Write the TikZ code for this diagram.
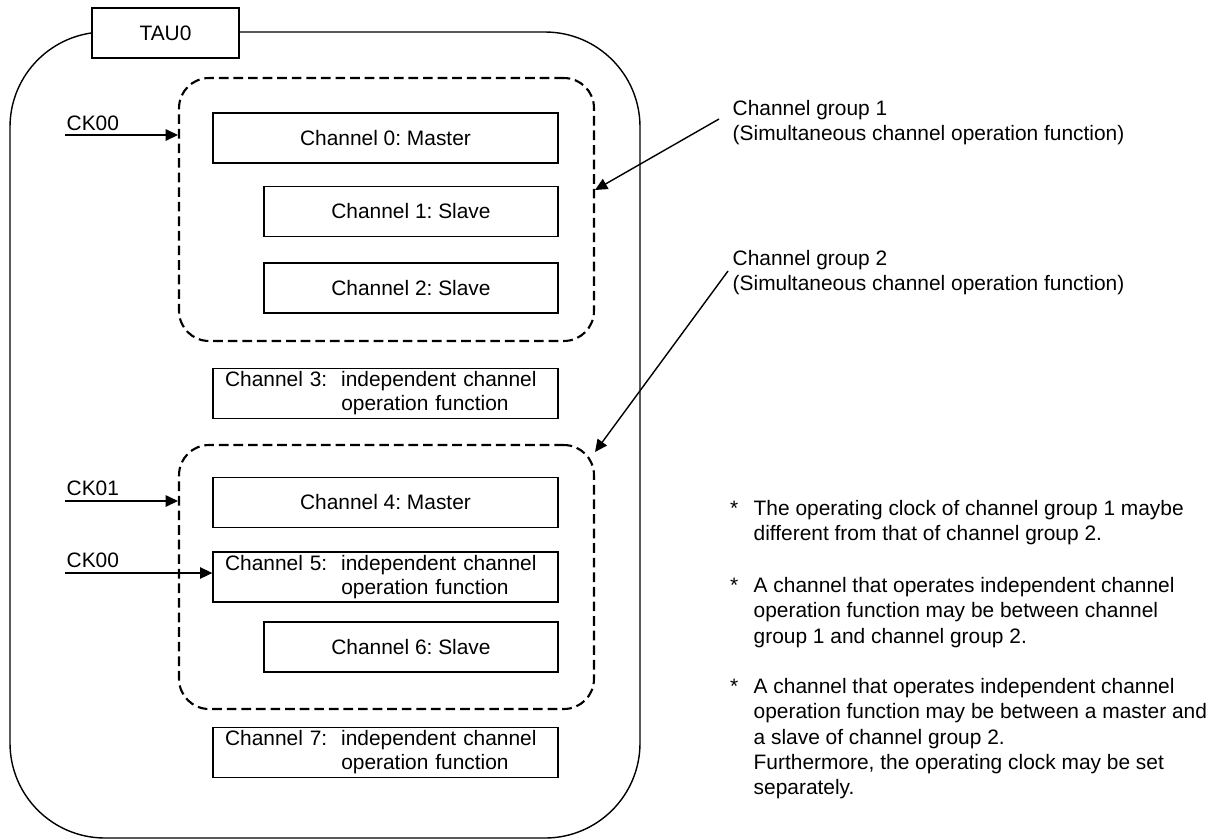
\documentclass[tikz,border=0pt]{standalone}
\usepackage{fontspec}
\setmainfont{Liberation Sans}
\usetikzlibrary{calc,arrows.meta}
\frenchspacing

\newcommand{\indepch}[1]{Channel #1:\ \ independent channel\\\hphantom{Channel #1:\ \ }operation function}

\begin{document}
\begin{tikzpicture}[x=0.02cm, y=-0.02cm, line width=0.8pt,
  every node/.style={font=\fontsize{11.9}{13.6}\selectfont},
  chbox/.style={draw, minimum height=1cm, inner sep=0pt},
  chwide/.style={chbox, minimum width=6.9cm},
  chnarrow/.style={chbox, minimum width=5.88cm},
  chtwo/.style={chbox, text width=6.42cm, inner xsep=0.24cm, align=left},
  group/.style={draw, line width=1.2pt, dash pattern=on 5.5pt off 2.8pt,
    rounded corners=0.6cm, minimum width=8.3cm},
  arr/.style={-{Triangle[length=7pt,width=6.5pt]}},
  note/.style={inner sep=0pt, align=left, font=\fontsize{11.9}{14.3}\selectfont}]
  \useasboundingbox (0,0) rectangle (1226,839);

  % TAU0 frame
  \draw[rounded corners=1.9cm] (10,32) rectangle (640,838);
  \node[draw, fill=white, minimum width=2.94cm, minimum height=1cm] (tau) at (165.5,33) {TAU0};

  % channel groups (dashed)
  \node[group, minimum height=5.26cm] (g1) at (386.5,209.5) {};
  \node[group, minimum height=5.28cm] (g2) at (386.5,577) {};

  % channels
  \node[chwide]   (ch0) at (385.5,138)   {Channel 0: Master};
  \node[chnarrow] (ch1) at (411,211.5)   {Channel 1: Slave};
  \node[chnarrow] (ch2) at (411,288)     {Channel 2: Slave};
  \node[chtwo]    (ch3) at (385.5,393.5) {\indepch{3}};
  \node[chwide]   (ch4) at (385.5,502.5) {Channel 4: Master};
  \node[chtwo]    (ch5) at (385.5,577)   {\indepch{5}};
  \node[chnarrow] (ch6) at (411,647)     {Channel 6: Slave};
  \node[chtwo]    (ch7) at (385.5,752.5) {\indepch{7}};

  % clock inputs
  \coordinate (ckA) at (65,135);
  \coordinate (ckB) at (65,501);
  \coordinate (ckC) at (65,573);
  \node[anchor=base west, inner sep=0pt] (ckAl) at (66,130) {CK00};
  \node[anchor=base west, inner sep=0pt] (ckBl) at (66,495) {CK01};
  \node[anchor=base west, inner sep=0pt] (ckCl) at (66,567) {CK00};
  \draw[arr] (ckA) -- (ckA -| g1.west);
  \draw[arr] (ckB) -- (ckB -| g2.west);
  \draw[arr] (ckC) -- (ckC -| ch5.west);

  % group labels
  \node[note, anchor=north west] (cg1) at (732,100) {Channel group 1\\(Simultaneous channel operation function)};
  \node[note, anchor=north west] (cg2) at (732,250) {Channel group 2\\(Simultaneous channel operation function)};
  \coordinate (cg1a) at (719,119);
  \coordinate (cg2a) at (728,271);
  \draw[arr] (cg1a) -- ($(g1.east)+(0,-19.5)$);
  \draw[arr] (cg2a) -- ($(g2.north east)+(0,8)$);

  % notes
  \node[note, anchor=north west] (n1) at (753,500) {The operating clock of channel group 1 maybe\\different from that of channel group 2.};
  \node[note, anchor=north west] (n2) at (753,577) {A channel that operates independent channel\\operation function may be between channel\\group 1 and channel group 2.};
  \node[note, anchor=north west] (n3) at (753,678) {A channel that operates independent channel\\operation function may be between a master and\\a slave of channel group 2.\\Furthermore, the operating clock may be set\\separately.};
  \node[note, anchor=north east] (s1) at ($(n1.north west)+(-14,0)$) {*};
  \node[note, anchor=north east] (s2) at ($(n2.north west)+(-14,0)$) {*};
  \node[note, anchor=north east] (s3) at ($(n3.north west)+(-14,0)$) {*};
\end{tikzpicture}
\end{document}
